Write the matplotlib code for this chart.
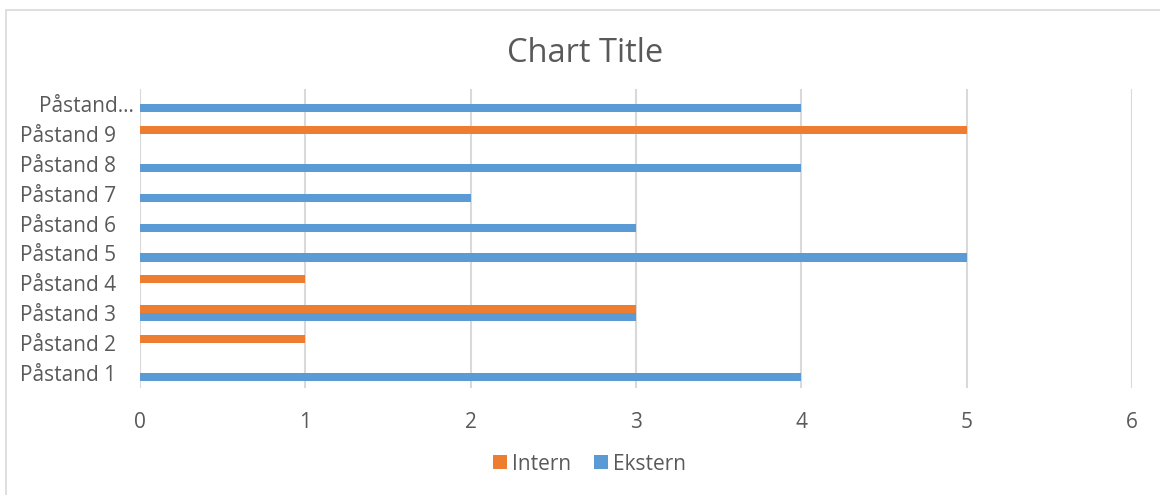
import matplotlib
matplotlib.use("Agg")
import matplotlib.pyplot as plt
import matplotlib.transforms as mtransforms
from matplotlib.patches import Rectangle
from matplotlib.lines import Line2D
import numpy as np

categories = ["Påstand 1", "Påstand 2", "Påstand 3", "Påstand 4", "Påstand 5",
              "Påstand 6", "Påstand 7", "Påstand 8", "Påstand 9", "Påstand..."]
intern = [0, 1, 3, 1, 0, 0, 0, 0, 5, 0]
ekstern = [4, 0, 3, 0, 5, 3, 2, 4, 0, 4]
xticks = [0, 1, 2, 3, 4, 5, 6]
series_names = ["Intern", "Ekstern"]

ORANGE = "#ED7D31"
BLUE = "#5B9BD5"
TEXT = "#595959"
GRID = "#D9D9D9"

plt.rcParams['font.family'] = ['Open Sans', 'DejaVu Sans']

fig = plt.figure(figsize=(11.6, 4.95), dpi=100)
W, H = 1160, 495
ax = fig.add_axes([140 / W, 1 - 388 / H, (1132 - 140) / W, (388 - 89) / H])

y = np.arange(len(categories))
h = 0.27
ax.barh(y + h / 2, intern, height=h, color=ORANGE, label=series_names[0], linewidth=0)
ax.barh(y - h / 2, ekstern, height=h, color=BLUE, label=series_names[1], linewidth=0)

ax.set_xlim(0, 6)
ax.set_ylim(-0.5, len(categories) - 0.5)
ax.set_xticks(xticks)
ax.set_xticklabels([str(t) for t in xticks])
ax.set_yticks(y)
ax.set_yticklabels(categories)
ax.xaxis.grid(True, color=GRID, linewidth=1.5)
ax.set_axisbelow(True)
for s in ax.spines.values():
    s.set_visible(False)
ax.tick_params(axis='both', length=0, colors=TEXT, labelsize=15)
ax.tick_params(axis='y', pad=17)
ax.tick_params(axis='x', pad=17)

# truncated last label sits closer to the axis
lbls = ax.get_yticklabels()
last = lbls[-1]
last.set_transform(last.get_transform() + mtransforms.ScaledTranslation(17 / 100, 0, fig.dpi_scale_trans))

fig.text(585 / W, 1 - 54 / H, "Chart Title", ha='center', va='center', fontsize=23.5, color=TEXT)

handles = [Line2D([], [], linestyle='none', marker='s', markersize=9.4, color=c, markeredgewidth=0)
           for c in (ORANGE, BLUE)]
leg = fig.legend(handles=handles, labels=series_names,
                 loc='center', bbox_to_anchor=(590 / W, 1 - 464 / H), ncol=2, frameon=False,
                 fontsize=15, handlelength=0.6, handletextpad=0.3,
                 columnspacing=1.1, labelcolor=TEXT)

fig.patches.append(Rectangle((6 / W, -10 / H), (1200 - 6) / W, (485 + 10) / H,
                             transform=fig.transFigure, fill=False, edgecolor=GRID, linewidth=1.2))

fig.savefig("out.png", dpi=100)
